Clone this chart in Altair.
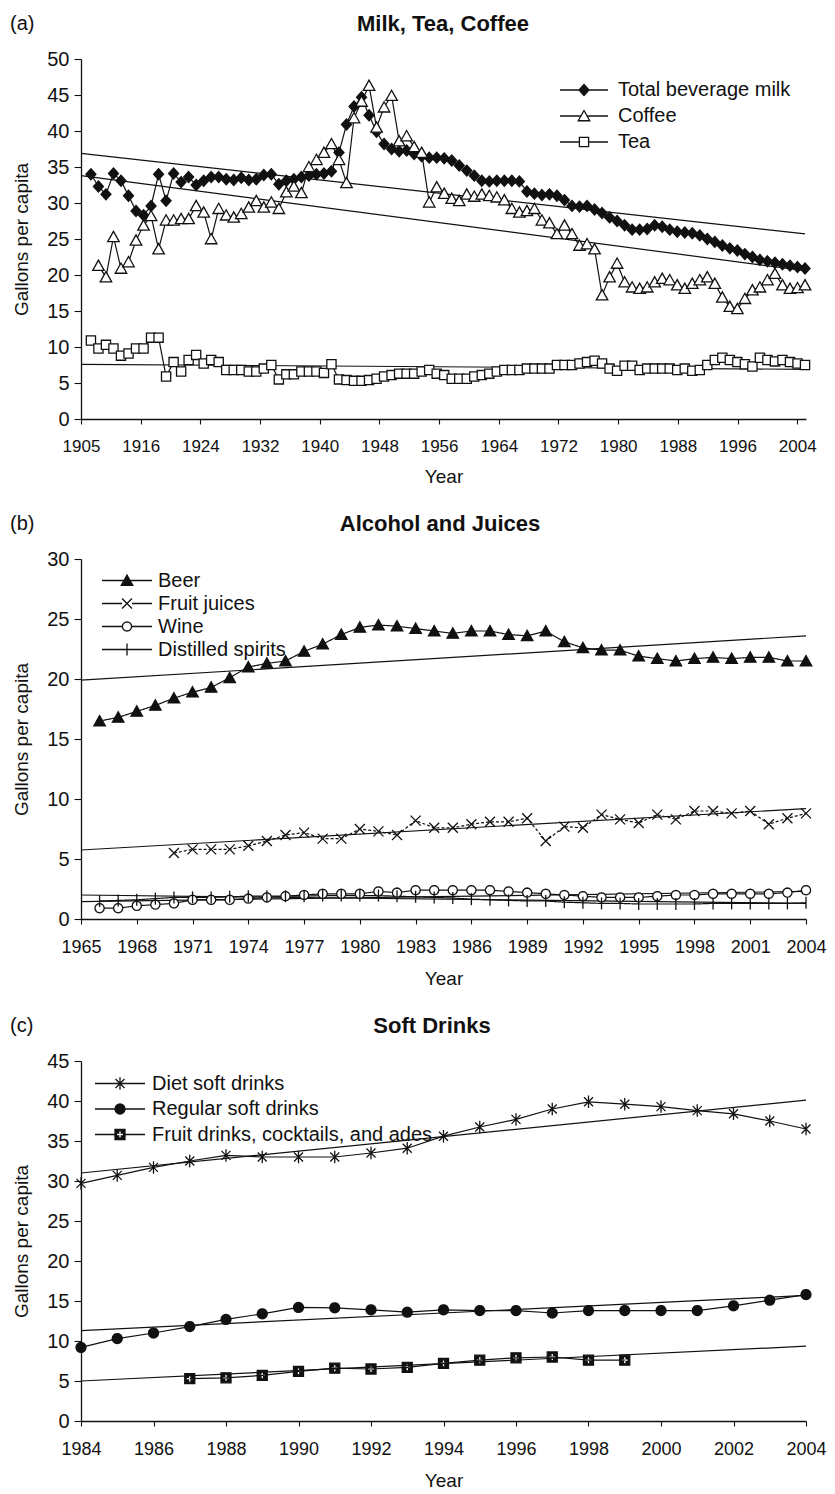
import math
import altair as alt
import pandas as pd

FONT = "Liberation Sans"
INK = "#111111"
W, H = 725, 360

# ---------------- (a) Milk, Tea, Coffee ----------------
A_NAMES = ["Total beverage milk", "Coffee", "Tea"]
a_milk_years = list(range(1909, 2005))
a_milk = [34.0, 32.3, 31.2, 34.1, 33.1, 31.0, 28.9, 28.3, 29.6, 34.0,
          30.3, 34.1, 32.9, 33.6, 32.5, 33.1, 33.6, 33.6, 33.3, 33.2,
          33.5, 33.2, 33.3, 33.9, 34.0, 32.6, 33.1, 33.3, 33.6, 33.8,
          34.0, 34.1, 34.4, 37.0, 40.9, 43.4, 44.7, 42.2, 39.9, 38.2,
          37.5, 37.2, 37.3, 36.8, 36.5, 36.3, 36.3, 36.2, 35.9, 35.2,
          34.5, 33.8, 33.1, 33.0, 33.1, 33.1, 33.1, 33.0, 31.6, 31.3,
          31.1, 31.2, 31.0, 30.4, 29.6, 29.5, 29.6, 29.1, 28.6, 28.0,
          27.5, 26.9, 26.3, 26.3, 26.4, 26.9, 26.7, 26.3, 26.0, 25.9,
          25.8, 25.5, 25.0, 24.6, 24.1, 23.7, 23.4, 22.9, 22.5, 22.1,
          21.9, 21.7, 21.5, 21.3, 21.1, 20.9]
a_coffee_years = list(range(1910, 2005))
a_coffee = [21.3, 19.7, 25.3, 20.9, 21.8, 24.8, 26.9, 28.2, 23.6, 27.6,
            27.6, 27.8, 27.8, 29.6, 28.7, 25.0, 29.2, 28.3, 28.0, 28.5,
            29.4, 30.3, 29.4, 30.1, 29.2, 31.5, 32.3, 31.4, 35.0, 36.0,
            37.0, 38.2, 36.0, 32.8, 41.8, 44.1, 46.3, 40.5, 43.3, 44.9,
            38.6, 39.3, 37.8, 37.0, 30.1, 32.2, 31.3, 30.6, 30.3, 31.2,
            30.9, 31.2, 31.0, 30.8, 30.4, 29.2, 28.7, 28.9, 29.2, 27.6,
            27.2, 25.7, 26.9, 25.7, 24.1, 24.3, 23.6, 17.2, 19.7, 21.6,
            19.0, 18.3, 18.1, 18.3, 19.0, 19.5, 19.3, 18.6, 18.1, 18.8,
            19.3, 19.7, 18.8, 16.9, 15.6, 15.3, 16.7, 17.9, 18.3, 19.3,
            20.2, 18.6, 18.1, 18.2, 18.6]
a_tea_years = list(range(1909, 2005))
a_tea = [10.9, 9.8, 10.3, 9.8, 8.8, 9.1, 9.8, 9.8, 11.3, 11.3,
         5.9, 7.9, 6.6, 8.2, 8.9, 7.7, 8.2, 7.9, 6.8, 6.8,
         6.8, 6.6, 6.6, 7.0, 7.5, 5.5, 6.2, 6.2, 6.6, 6.6,
         6.6, 6.4, 7.6, 5.5, 5.4, 5.3, 5.3, 5.4, 5.6, 5.9,
         6.1, 6.3, 6.3, 6.3, 6.6, 6.8, 6.3, 6.1, 5.6, 5.6,
         5.6, 5.9, 6.1, 6.3, 6.6, 6.8, 6.8, 6.8, 7.0, 7.0,
         7.0, 7.0, 7.5, 7.5, 7.5, 7.7, 7.9, 8.1, 7.7, 7.0,
         6.7, 7.4, 7.4, 6.8, 7.0, 7.0, 7.0, 7.0, 6.8, 7.0,
         6.7, 6.8, 7.5, 8.2, 8.5, 8.2, 7.9, 7.6, 7.3, 8.5,
         8.2, 8.0, 8.2, 7.9, 7.7, 7.5]
a_trend_years = [1907.68, 2004]
a_trend_milk = [36.9, 25.7]
a_trend_coffee = [33.8, 20.6]
a_trend_tea = [7.6, 6.9]
a_x_domain = [1907.68, 2004.13]
a_tick_labels = ["1905", "1916", "1924", "1932", "1940", "1948", "1956",
                 "1964", "1972", "1980", "1988", "1996", "2004"]
a_tick_step = 7.94

# ---------------- (b) Alcohol and Juices ----------------
B_NAMES = ["Beer", "Fruit juices", "Wine", "Distilled spirits"]
b_years = list(range(1966, 2005))
b_beer = [16.5, 16.8, 17.3, 17.8, 18.4, 18.9, 19.3, 20.1, 21.0, 21.3,
          21.5, 22.3, 22.9, 23.7, 24.3, 24.5, 24.4, 24.2, 24.0, 23.8,
          24.0, 24.0, 23.7, 23.6, 24.0, 23.1, 22.6, 22.4, 22.4, 21.9,
          21.7, 21.5, 21.7, 21.8, 21.7, 21.8, 21.8, 21.5, 21.5]
b_juice_years = list(range(1970, 2005))
b_juice = [5.5, 5.8, 5.8, 5.8, 6.1, 6.5, 7.0, 7.2, 6.7, 6.7,
           7.5, 7.3, 7.0, 8.2, 7.6, 7.6, 7.9, 8.1, 8.1, 8.4,
           6.5, 7.7, 7.6, 8.7, 8.3, 8.0, 8.7, 8.3, 9.0, 9.0,
           8.8, 9.0, 7.9, 8.4, 8.8]
b_wine = [0.9, 0.9, 1.1, 1.2, 1.3, 1.6, 1.6, 1.6, 1.7, 1.8,
          1.9, 2.0, 2.1, 2.1, 2.1, 2.3, 2.2, 2.4, 2.4, 2.4,
          2.4, 2.4, 2.3, 2.2, 2.1, 2.0, 1.9, 1.8, 1.8, 1.8,
          1.9, 2.0, 2.0, 2.1, 2.1, 2.1, 2.1, 2.2, 2.4]
b_spirits = [1.5, 1.55, 1.6, 1.7, 1.8, 1.8, 1.8, 1.85, 1.9, 1.9,
             1.9, 1.9, 1.95, 1.95, 1.95, 1.95, 1.9, 1.85, 1.8, 1.75,
             1.65, 1.6, 1.55, 1.5, 1.5, 1.4, 1.35, 1.3, 1.3, 1.25,
             1.25, 1.25, 1.25, 1.3, 1.3, 1.3, 1.3, 1.3, 1.35]
b_trend_years = [1965, 2004]
b_trend_beer = [19.9, 23.6]
b_trend_juice = [5.75, 9.2]
b_trend_wine = [1.45, 2.3]
b_trend_spirits = [2.0, 1.3]
b_x_domain = [1965, 2004]
b_ticks = list(range(1965, 2005, 3))

# ---------------- (c) Soft Drinks ----------------
C_NAMES = ["Diet soft drinks", "Regular soft drinks", "Fruit drinks, cocktails, and ades"]
c_years = list(range(1984, 2005))
c_diet = [29.7, 30.7, 31.7, 32.5, 33.2, 33.0, 33.0, 33.0, 33.5, 34.1,
          35.6, 36.75, 37.7, 39.0, 39.9, 39.6, 39.3, 38.8, 38.4, 37.5, 36.5]
c_regular = [9.2, 10.3, 11.0, 11.8, 12.7, 13.4, 14.2, 14.15, 13.9, 13.6,
             13.9, 13.8, 13.8, 13.5, 13.8, 13.8, 13.8, 13.8, 14.4, 15.1, 15.8]
c_fruit_years = list(range(1987, 2000))
c_fruit = [5.3, 5.4, 5.7, 6.2, 6.6, 6.5, 6.7, 7.2, 7.6, 7.9, 8.0, 7.6, 7.6]
c_trend_years = [1984, 2004]
c_trend_diet = [31.0, 40.1]
c_trend_regular = [11.3, 15.7]
c_trend_fruit = [5.0, 9.35]
c_x_domain = [1984, 2004]
c_ticks = list(range(1984, 2005, 2))


def long_df(items):
    rows = []
    for name, years, vals in items:
        rows += [{"series": name, "year": y, "value": v} for y, v in zip(years, vals)]
    return pd.DataFrame(rows)


# ---------------- marker geometry (units of 5 px) ----------------
def poly(pts, reverse=False):
    p = list(reversed(pts)) if reverse else list(pts)
    return "M" + "L".join(f"{x:.3f},{y:.3f}" for x, y in p) + "Z"


def hollow(pts):
    return poly(pts) + poly(pts, True)


def ngon(r, n=16):
    return [(r * math.cos(2 * math.pi * k / n), r * math.sin(2 * math.pi * k / n)) for k in range(n)]


def leads(gap, half):
    return f"M{-half},0H{-gap}M{gap},0H{half}"


DIAMOND = [(0, -1.1), (1.0, 0), (0, 1.1), (-1.0, 0)]
TRI = [(0, -1.1), (1.15, 0.95), (-1.15, 0.95)]
SQ = [(-0.92, -0.92), (0.92, -0.92), (0.92, 0.92), (-0.92, 0.92)]
XMARK = "M-1,-1L1,1M-1,1L1,-1"
TICK = "M0,-1.2V1.2"
AST = "M-0.9,-0.9L0.9,0.9M-0.9,0.9L0.9,-0.9M0,-1.25V1.25"
CIRC_W = ngon(0.92)
CIRC_R = ngon(1.0)
_w, _l = 0.26, 0.72
PLUS_CCW = [(-_w, -_l), (-_w, -_w), (-_l, -_w), (-_l, _w), (-_w, _w), (-_w, _l),
            (_w, _l), (_w, _w), (_l, _w), (_l, -_w), (_w, -_w), (_w, -_l)]
FRUIT = poly([(-1, -1), (1, -1), (1, 1), (-1, 1)]) + poly(PLUS_CCW)

WHITE = "#ffffff"


def panel(df, tdf, names, xscale, xaxis, ymax, pt_shapes, pt_fills, lg_shapes,
          lg_cfg, title, tag, title_x, dashes=None):
    X = alt.X("year:Q", scale=xscale, axis=xaxis)
    Y = alt.Y("value:Q", scale=alt.Scale(domain=[0, ymax], nice=False),
              axis=alt.Axis(values=list(range(0, ymax + 1, 5)), title="Gallons per capita",
                            tickSize=7, labelPadding=5, titlePadding=15, labelFontSize=20,
                            titleFontSize=19, labelFlush=False))
    D = alt.Detail("series:N")
    trend = alt.Chart(tdf).mark_line(color=INK, strokeWidth=1.2).encode(x=X, y=Y, detail=D)
    enc = {}
    if dashes:
        enc["strokeDash"] = alt.StrokeDash("series:N", scale=alt.Scale(domain=names, range=dashes),
                                           legend=None)
    lines = alt.Chart(df).mark_line(color=INK, strokeWidth=1.2).encode(x=X, y=Y, detail=D, **enc)
    pts = alt.Chart(df).mark_point(filled=True, stroke=INK, strokeWidth=1.3, size=100,
                                   opacity=1).encode(
        x=X, y=Y,
        shape=alt.Shape("series:N", scale=alt.Scale(domain=names, range=pt_shapes), legend=None),
        fill=alt.Fill("series:N", scale=alt.Scale(domain=names, range=pt_fills), legend=None))
    leg = alt.Chart(df).transform_filter("false").mark_point(
        filled=True, fill=INK, stroke=INK, strokeWidth=1.3, size=100, opacity=1).encode(
        x=X, y=Y,
        shape=alt.Shape("series:N", scale=alt.Scale(domain=names, range=lg_shapes),
                        legend=alt.Legend(title=None, orient="none", symbolSize=100,
                                          symbolStrokeWidth=1.3, labelFontSize=20,
                                          labelFont=FONT, labelColor=INK, padding=0,
                                          labelLimit=500, **lg_cfg)))
    ttl = alt.Chart(pd.DataFrame({"t": [title]})).mark_text(
        font=FONT, fontSize=22, fontWeight="bold", color=INK, align="center",
        baseline="middle").encode(text="t:N", x=alt.value(title_x), y=alt.value(-35))
    tg = alt.Chart(pd.DataFrame({"t": [tag]})).mark_text(
        font=FONT, fontSize=20, color=INK, align="left", baseline="middle").encode(
        text="t:N", x=alt.value(-71), y=alt.value(-35))
    return (alt.layer(trend, lines, pts, leg, ttl, tg)
            .resolve_scale(shape="independent")
            .properties(width=W, height=H))


def x_axis(values, size, **kw):
    return alt.Axis(values=values, title="Year", tickSize=5, labelPadding=14, titlePadding=13,
                    labelFontSize=size, titleFontSize=19, labelFlush=False, labelOverlap=False,
                    **kw)


# ---- panel (a)
a_df = long_df([(A_NAMES[0], a_milk_years, a_milk), (A_NAMES[1], a_coffee_years, a_coffee),
                (A_NAMES[2], a_tea_years, a_tea)])
a_tdf = long_df([(A_NAMES[0], a_trend_years, a_trend_milk),
                 (A_NAMES[1], a_trend_years, a_trend_coffee),
                 (A_NAMES[2], a_trend_years, a_trend_tea)])
a_tick_pos = [round(a_x_domain[0] + a_tick_step * k, 2) for k in range(len(a_tick_labels))]
a_label_expr = f"{a_tick_labels}[indexof({a_tick_pos}, datum.value)]"
pa = panel(a_df, a_tdf, A_NAMES,
           alt.Scale(domain=a_x_domain, nice=False, zero=False),
           x_axis(a_tick_pos, 17, labelExpr=a_label_expr), 50,
           [poly(DIAMOND), poly(TRI), poly(SQ)], [INK, WHITE, WHITE],
           [leads(1.0, 4.8) + poly(DIAMOND), leads(0.62, 4.8) + hollow(TRI),
            leads(0.92, 4.8) + hollow(SQ)],
           dict(legendX=479, legendY=21, symbolOffset=14, labelOffset=24, rowPadding=6),
           "Milk, Tea, Coffee", "(a)", 362)

# ---- panel (b)
b_df = long_df([(B_NAMES[0], b_years, b_beer), (B_NAMES[1], b_juice_years, b_juice),
                (B_NAMES[2], b_years, b_wine), (B_NAMES[3], b_years, b_spirits)])
b_tdf = long_df([(B_NAMES[0], b_trend_years, b_trend_beer),
                 (B_NAMES[1], b_trend_years, b_trend_juice),
                 (B_NAMES[2], b_trend_years, b_trend_wine),
                 (B_NAMES[3], b_trend_years, b_trend_spirits)])
pb = panel(b_df, b_tdf, B_NAMES,
           alt.Scale(domain=b_x_domain, nice=False, zero=False),
           x_axis(b_ticks, 18, format="d"), 30,
           [poly(TRI), XMARK, poly(CIRC_W), TICK], [INK, WHITE, WHITE, WHITE],
           [leads(0.62, 5) + poly(TRI), leads(1.0, 5) + XMARK, leads(0.92, 5) + hollow(CIRC_W),
            "M-5,0H5" + TICK],
           dict(legendX=21, legendY=11.5, symbolOffset=15, labelOffset=21, rowPadding=3),
           "Alcohol and Juices", "(b)", 359,
           dashes=[[1, 0], [3, 2], [1, 0], [1, 0]])

# ---- panel (c)
c_df = long_df([(C_NAMES[0], c_years, c_diet), (C_NAMES[1], c_years, c_regular),
                (C_NAMES[2], c_fruit_years, c_fruit)])
c_tdf = long_df([(C_NAMES[0], c_trend_years, c_trend_diet),
                 (C_NAMES[1], c_trend_years, c_trend_regular),
                 (C_NAMES[2], c_trend_years, c_trend_fruit)])
pc = panel(c_df, c_tdf, C_NAMES,
           alt.Scale(domain=c_x_domain, nice=False, zero=False),
           x_axis(c_ticks, 18, format="d"), 45,
           [AST, poly(CIRC_R), FRUIT], [WHITE, INK, INK],
           ["M-5,0H5" + AST, leads(1.0, 5) + poly(CIRC_R), leads(1.0, 5) + FRUIT],
           dict(legendX=14, legendY=12.5, symbolOffset=15, labelOffset=22, rowPadding=5.5),
           "Soft Drinks", "(c)", 351)

chart = (alt.vconcat(pa, pb, pc, spacing=27)
         .resolve_scale(shape="independent", fill="independent", strokeDash="independent")
         .properties(padding={"left": 2, "top": 5, "right": 0, "bottom": 5},
                     background="white")
         .configure(font=FONT)
         .configure_view(stroke=None)
         .configure_axis(labelFont=FONT, titleFont=FONT, labelColor=INK, titleColor=INK,
                         domainColor=INK, tickColor=INK, grid=False, titleFontWeight="normal",
                         domainWidth=1.3, tickWidth=1.1))

chart.save("out.html", embed_options={"renderer": "svg", "actions": False})
